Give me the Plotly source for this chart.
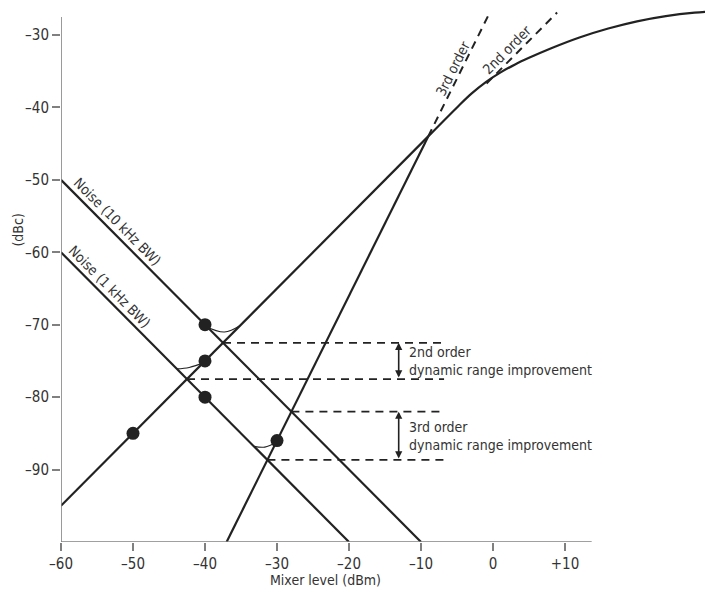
import plotly.graph_objects as go

# ---- data ----
noise_10k_x = [-60, -10]
noise_10k_y = [-50, -100]
noise_1k_x = [-60, -20]
noise_1k_y = [-60, -100]
second_x = [-60, -9]
second_y = [-95, -44]
third_x = [-37, -9]
third_y = [-100, -44]
third_dash_x = [-9, -0.5]
third_dash_y = [-44, -27]
second_dash_x = [-0.9, 8.9]
second_dash_y = [-36.7, -26.9]
comp_x = [-9, -5, -3, -1, 1, 3, 5, 8, 12, 16, 20, 24, 28, 31]
comp_y = [-44, -40, -38.1, -36.5, -35.2, -34.1, -33.16, -31.87, -30.35, -29.11, -28.11, -27.39, -26.91, -26.7]
dots_x = [-40, -40, -40, -50, -30]
dots_y = [-70, -75, -80, -85, -86]
hook1_x = [-40, -37.3, -35.1]
hook1_y = [-70.2, -71.0, -70.1]
hook2_x = [-40, -42.2, -43.9]
hook2_y = [-75.2, -75.9, -76.1]
hook3_x = [-30, -31.7, -33.2]
hook3_y = [-86.2, -86.9, -86.8]
dash_end_x = -6.8
arrow_x = -13.1
x_ticks = [-60, -50, -40, -30, -20, -10, 0, 10]
x_ticktext = ["–60", "–50", "–40", "–30", "–20", "–10", "0", "+10"]
y_ticks = [-90, -80, -70, -60, -50, -40, -30]
y_ticktext = ["–90", "–80", "–70", "–60", "–50", "–40", "–30"]

FONT = "DejaVu Sans Condensed, Liberation Sans Narrow, sans-serif"
TXT = "#333333"
LC = "#222222"
AX = "#808080"

fig = go.Figure()

def line(x, y, dash="solid", width=2.2, shape="linear"):
    fig.add_trace(go.Scatter(x=x, y=y, mode="lines", line=dict(color=LC, width=width, dash=dash, shape=shape),
                             hoverinfo="skip", showlegend=False))

line(noise_10k_x, noise_10k_y)
line(noise_1k_x, noise_1k_y)
line(second_x, second_y)
line(third_x, third_y)
line(comp_x, comp_y, shape="spline")
line(third_dash_x, third_dash_y, dash="8px,6px", width=2)
line(second_dash_x, second_dash_y, dash="8px,6px", width=2)
for hx, hy in [(hook1_x, hook1_y), (hook2_x, hook2_y), (hook3_x, hook3_y)]:
    line(hx, hy, width=1.1, shape="spline")

# intersections for dashed level lines
def inter(m1, b1, m2, b2):
    x = (b2 - b1) / (m1 - m2)
    return x, m1 * x + b1

def lin(xs, ys):
    m = (ys[1] - ys[0]) / (xs[1] - xs[0])
    return m, ys[0] - m * xs[0]

n10 = lin(noise_10k_x, noise_10k_y)
n1 = lin(noise_1k_x, noise_1k_y)
s2 = lin(second_x, second_y)
s3 = lin(third_x, third_y)
levels = [inter(*s2, *n10), inter(*s2, *n1), inter(*s3, *n10), inter(*s3, *n1)]
for (ix, iy) in levels:
    line([ix, dash_end_x], [iy, iy], dash="8px,6px", width=1.8)

fig.add_trace(go.Scatter(x=dots_x, y=dots_y, mode="markers",
                         marker=dict(color=LC, size=13), hoverinfo="skip", showlegend=False))

# axis lines
fig.add_shape(type="line", x0=-60, x1=-60, y0=-100, y1=-27.5, line=dict(color=AX, width=1.6))
fig.add_shape(type="line", x0=-60, x1=13.7, y0=-100, y1=-100, line=dict(color=AX, width=1.6))

ann = []
for (a, b) in [(levels[0], levels[1]), (levels[2], levels[3])]:
    ann.append(dict(x=arrow_x, y=a[1], ax=arrow_x, ay=b[1], xref="x", yref="y", axref="x", ayref="y",
                    text="", showarrow=True, arrowhead=2, arrowside="end+start", arrowsize=0.9,
                    arrowwidth=1.6, arrowcolor=LC))
ann.append(dict(x=-12.0, y=(levels[0][1] + levels[1][1]) / 2, text="2nd order<br>dynamic range improvement",
                showarrow=False, xanchor="left", yanchor="middle", align="left",
                font=dict(size=14, color=TXT, family=FONT)))
ann.append(dict(x=-12.0, y=(levels[2][1] + levels[3][1]) / 2, text="3rd order<br>dynamic range improvement",
                showarrow=False, xanchor="left", yanchor="middle", align="left",
                font=dict(size=14, color=TXT, family=FONT)))
ann.append(dict(x=-5.56, y=-34.55, text="3rd order", textangle=-63.6, showarrow=False,
                font=dict(size=14, color=TXT, family=FONT)))
ann.append(dict(x=1.9, y=-32.07, text="2nd order", textangle=-45.2, showarrow=False,
                font=dict(size=14, color=TXT, family=FONT)))
ann.append(dict(x=-52.1, y=-55.8, text="Noise (10 kHz BW)", textangle=45.2, showarrow=False,
                font=dict(size=14, color=TXT, family=FONT)))
ann.append(dict(x=-53.2, y=-64.8, text="Noise (1 kHz BW)", textangle=45.2, showarrow=False,
                font=dict(size=14, color=TXT, family=FONT)))
ann.append(dict(x=-23.2, y=-100, yshift=-38, text="Mixer level (dBm)", showarrow=False,
                font=dict(size=14, color=TXT, family=FONT)))
ann.append(dict(x=-60, xshift=-43, y=-57, text="(dBc)", textangle=-90, showarrow=False,
                font=dict(size=14, color=TXT, family=FONT)))

fig.update_layout(
    width=705, height=596,
    margin=dict(l=61, r=0, t=5, b=53.5),
    paper_bgcolor="white", plot_bgcolor="white",
    annotations=ann,
    showlegend=False,
    xaxis=dict(range=[-60, 29.44], showgrid=False, zeroline=False, showline=False, automargin=False,
               tickvals=x_ticks, ticktext=x_ticktext, ticks="outside", ticklen=8,
               tickcolor=AX, tickwidth=1.5, tickfont=dict(size=15, color=TXT, family=FONT)),
    yaxis=dict(range=[-100, -25.86], showgrid=False, zeroline=False, showline=False, automargin=False,
               tickvals=y_ticks, ticktext=y_ticktext, ticks="outside", ticklen=8,
               tickcolor=AX, tickwidth=1.5, tickfont=dict(size=15, color=TXT, family=FONT)),
)

fig.write_html("out.html", config={"displayModeBar": False},
               post_script="document.body.style.margin='0px';")
